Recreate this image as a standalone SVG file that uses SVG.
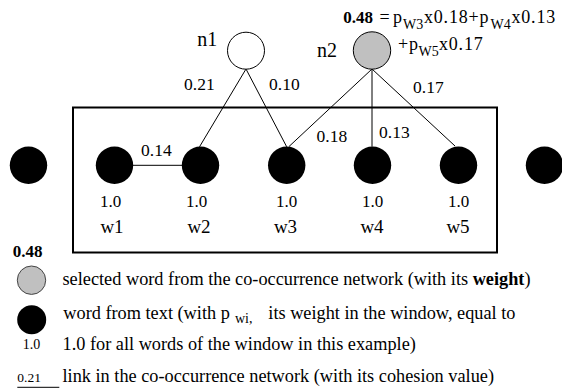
<svg xmlns="http://www.w3.org/2000/svg" width="562" height="390" viewBox="0 0 562 390">
<style>
text{font-family:"Liberation Serif","Times New Roman",serif;fill:#000}
.lbl{font-size:17.5px}
.wt{font-size:17px}
.wn{font-size:19px}
.nn{font-size:20px}
.f{font-size:18px;letter-spacing:0.8px}
.sub{font-size:14px}
.lg{font-size:18.3px}
.b{font-weight:bold}
.word{fill:#000}
.edge{stroke:#000;stroke-width:1;fill:none}
</style>
<rect width="562" height="390" fill="#fff"/>
<g id="connectors">
<line class="edge" x1="133" y1="165.3" x2="182" y2="165.3"/>
<line class="edge" x1="246" y1="69" x2="199.5" y2="146.8"/>
<line class="edge" x1="246" y1="69" x2="286.7" y2="146.8"/>
<line class="edge" x1="372" y1="69" x2="289" y2="146.5"/>
<line class="edge" x1="372" y1="69" x2="372" y2="146.7"/>
<line class="edge" x1="372" y1="69" x2="455" y2="146"/>
<text class="lbl" x="184" y="89.5">0.21</text>
<text class="lbl" x="269" y="89.5">0.10</text>
<text class="lbl" x="413" y="93">0.17</text>
<text class="lbl" x="141" y="155.5">0.14</text>
<text class="lbl" x="316.5" y="142">0.18</text>
<text class="lbl" x="379" y="138">0.13</text>
</g>
<g id="window">
<rect x="73" y="107.5" width="424" height="145" fill="none" stroke="#000" stroke-width="2"/>
</g>
<g id="w0"><circle class="word" cx="28.5" cy="165.3" r="18.7"/></g>
<g id="w1"><circle class="word" cx="114.5" cy="165.3" r="18.7"/>
<text class="wt" x="110.5" y="206.5" text-anchor="middle">1.0</text>
<text class="wn" x="112" y="232.5" text-anchor="middle">w1</text></g>
<g id="w2"><circle class="word" cx="200.5" cy="165.3" r="18.7"/>
<text class="wt" x="196.5" y="206.5" text-anchor="middle">1.0</text>
<text class="wn" x="199" y="232.5" text-anchor="middle">w2</text></g>
<g id="w3"><circle class="word" cx="286.7" cy="165.3" r="18.7"/>
<text class="wt" x="286.5" y="206.5" text-anchor="middle">1.0</text>
<text class="wn" x="285.5" y="232.5" text-anchor="middle">w3</text></g>
<g id="w4"><circle class="word" cx="372.5" cy="165.3" r="18.7"/>
<text class="wt" x="372.5" y="206.5" text-anchor="middle">1.0</text>
<text class="wn" x="372" y="232.5" text-anchor="middle">w4</text></g>
<g id="w5"><circle class="word" cx="458.5" cy="165.3" r="18.7"/>
<text class="wt" x="458.5" y="206.5" text-anchor="middle">1.0</text>
<text class="wn" x="458" y="232.5" text-anchor="middle">w5</text></g>
<g id="w6"><circle class="word" cx="544.5" cy="165.3" r="18.7"/></g>
<g id="n1"><circle cx="246" cy="50.7" r="18.5" fill="#fff" stroke="#000" stroke-width="1"/>
<text class="nn" x="197.3" y="46">n1</text></g>
<g id="n2"><circle cx="372" cy="50.5" r="18.7" fill="#c0c0c0" stroke="#000" stroke-width="1"/>
<text class="nn" x="317" y="57">n2</text>
<text class="b wt" x="343.3" y="22.5">0.48</text>
<text class="f" x="379.5" y="22.5">=</text>
<text class="f" x="393" y="22.5">p</text>
<text class="sub" x="403" y="28.5">W3</text>
<text class="f" x="424" y="22.5">x0.18+p</text>
<text class="sub" x="490.5" y="28.5">W4</text>
<text class="f" x="511.5" y="22.5">x0.13</text>
<text class="f" x="398" y="49.5">+p</text>
<text class="sub" x="418.5" y="55.5">W5</text>
<text class="f" x="439" y="49.5">x0.17</text>
</g>
<g id="legend">
<text class="b wt" x="12.7" y="257.3">0.48</text>
<circle cx="31.5" cy="280.2" r="14.2" fill="#c0c0c0" stroke="#444" stroke-width="1"/>
<text class="lg" x="62.5" y="284.5">selected word from the co-occurrence network (with its <tspan class="b">weight</tspan>)</text>
<circle cx="31.7" cy="319.7" r="14.5" fill="#000"/>
<text class="lg" x="63.3" y="318.5">word from text (with p</text>
<text class="sub" x="235" y="323">wi,</text>
<text class="lg" x="268.3" y="318.5">its weight in the window, equal to</text>
<text style="font-size:14px" x="22.7" y="349.3">1.0</text>
<text class="lg" x="62.5" y="350">1.0 for all words of the window in this example)</text>
<text style="font-size:13.5px" x="17.3" y="381.7">0.21</text>
<line x1="17.3" y1="387.3" x2="59.3" y2="387.3" stroke="#000" stroke-width="1"/>
<text class="lg" x="62.5" y="381.5">link in the co-occurrence network (with its cohesion value)</text>
</g>
</svg>
